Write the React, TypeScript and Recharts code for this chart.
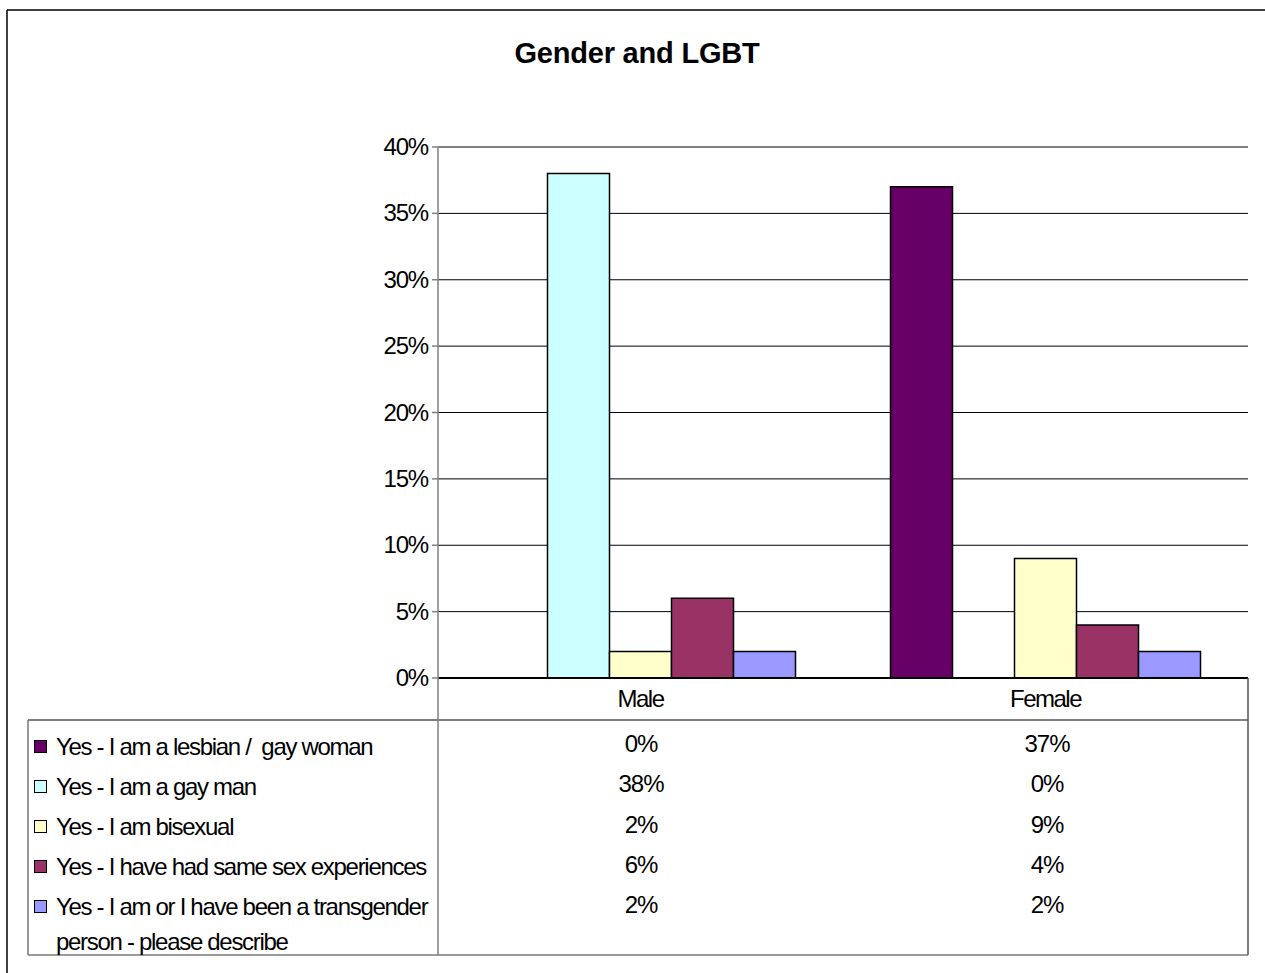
import React from 'react';
import { BarChart, Bar, XAxis, YAxis, CartesianGrid } from 'recharts';

const categories = ['Male', 'Female'];
const seriesNames = [
  'Yes - I am a lesbian /  gay woman',
  'Yes - I am a gay man',
  'Yes - I am bisexual',
  'Yes - I have had same sex experiences',
  'Yes - I am or I have been a transgender person - please describe',
];
const legendLines = [
  ['Yes - I am a lesbian /\u00a0 gay woman'],
  ['Yes - I am a gay man'],
  ['Yes - I am bisexual'],
  ['Yes - I have had same sex experiences'],
  ['Yes - I am or I have been a transgender', 'person - please describe'],
];
const lesbian = [0, 0.37];
const gayMan = [0.38, 0];
const bisexual = [0.02, 0.09];
const sameSex = [0.06, 0.04];
const transgender = [0.02, 0.02];
const yTicks = [0, 0.05, 0.1, 0.15, 0.2, 0.25, 0.3, 0.35, 0.4];
const title = 'Gender and LGBT';

const seriesValues = [lesbian, gayMan, bisexual, sameSex, transgender];
const seriesKeys = ['s0', 's1', 's2', 's3', 's4'];
const seriesColors = ['#660066', '#CCFFFF', '#FFFFCC', '#993366', '#9999FF'];

const data = categories.map((c, i) => {
  const row: any = { name: c };
  seriesKeys.forEach((k, j) => {
    row[k] = seriesValues[j][i];
  });
  return row;
});

const pct = (v: number) => `${Math.round(v * 100)}%`;
const FONT = '"Liberation Sans", Arial, sans-serif';

const YTick = (props: any) => {
  const { x, y, payload } = props;
  return (
    <text x={x} y={y} dy={8} textAnchor="end" fontFamily={FONT} fontSize={24} letterSpacing={-1.2} fill="#000">
      {pct(payload.value)}
    </text>
  );
};

const XTick = (props: any) => {
  const { x, y, payload } = props;
  return (
    <text x={x} y={y + 29} textAnchor="middle" fontFamily={FONT} fontSize={24} letterSpacing={-1.5} fill="#000">
      {payload.value}
    </text>
  );
};

const rowBaselines = [755, 795, 835, 875, 915];
const valueBaselines = [752, 792, 833, 873, 913];
const colCenters = [641, 1047];

export default function App() {
  return (
    <div style={{ position: 'absolute', left: 0, top: 0, width: 1265, height: 973, background: '#fff', overflow: 'hidden' }}>
      <div style={{ position: 'absolute', left: 0, top: 0 }}>
        <BarChart
          width={1265}
          height={720}
          data={data}
          margin={{ top: 147, right: 17, bottom: 0, left: 0 }}
          barCategoryGap="11.73%"
          barGap={0}
        >
          <CartesianGrid vertical={false} stroke="#000" strokeWidth={1} />
          <XAxis
            dataKey="name"
            height={42}
            tickSize={0}
            tickMargin={0}
            tickLine={false}
            axisLine={{ stroke: '#000', strokeWidth: 2 }}
            tick={<XTick />}
          />
          <YAxis
            type="number"
            width={438}
            domain={[0, 0.4]}
            ticks={yTicks}
            interval={0}
            tickSize={6}
            tickMargin={4}
            axisLine={{ stroke: '#808080', strokeWidth: 1.5 }}
            tickLine={{ stroke: '#808080', strokeWidth: 1.5 }}
            tick={<YTick />}
          />
          {seriesKeys.map((k, j) => (
            <Bar
              key={k}
              dataKey={k}
              name={seriesNames[j]}
              fill={seriesColors[j]}
              stroke="#000"
              strokeWidth={1.5}
              isAnimationActive={false}
            />
          ))}
        </BarChart>
      </div>
      <svg width={1265} height={973} style={{ position: 'absolute', left: 0, top: 0, pointerEvents: 'none' }}>
        <line x1={7} y1={10} x2={1265} y2={10} stroke="#000" strokeWidth={1.5} />
        <line x1={7} y1={10} x2={7} y2={973} stroke="#000" strokeWidth={1.5} />
        <text x={637} y={63} textAnchor="middle" fontFamily={FONT} fontSize={29} fontWeight="bold" letterSpacing={-0.2} fill="#000">
          {title}
        </text>
        <line x1={28} y1={720} x2={1248} y2={720} stroke="#555" strokeWidth={1.5} />
        <line x1={28} y1={955} x2={1248} y2={955} stroke="#777" strokeWidth={1.5} />
        <line x1={28} y1={720} x2={28} y2={955} stroke="#777" strokeWidth={1.5} />
        <line x1={438} y1={678} x2={438} y2={955} stroke="#808080" strokeWidth={1.5} />
        <line x1={1248} y1={678} x2={1248} y2={955} stroke="#555" strokeWidth={1.5} />
        {legendLines.map((lines, i) => (
          <g key={i}>
            <rect x={34.5} y={rowBaselines[i] - 14.5} width={12} height={12} fill={seriesColors[i]} stroke="#000" strokeWidth={1} />
            {lines.map((t, li) => (
              <text
                key={li}
                x={56}
                y={rowBaselines[i] + li * 35}
                fontFamily={FONT}
                fontSize={24}
                letterSpacing={-1.3}
                fill="#000"
              >
                {t}
              </text>
            ))}
          </g>
        ))}
        {seriesValues.map((vals, i) =>
          vals.map((v, ci) => (
            <text
              key={`${i}-${ci}`}
              x={colCenters[ci]}
              y={valueBaselines[i]}
              textAnchor="middle"
              fontFamily={FONT}
              fontSize={24}
              letterSpacing={-1}
              fill="#000"
            >
              {pct(v)}
            </text>
          ))
        )}
      </svg>
    </div>
  );
}
